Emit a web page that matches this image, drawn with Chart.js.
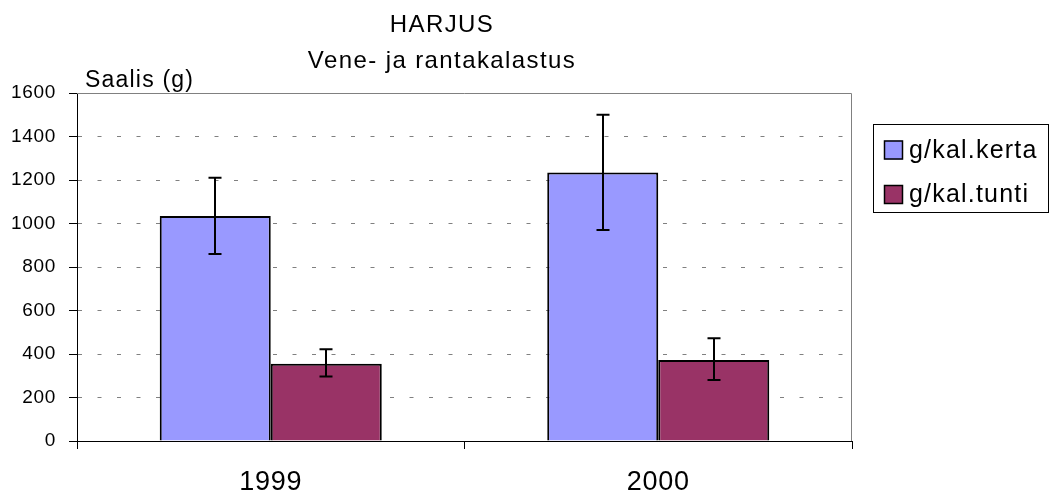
<!DOCTYPE html>
<html>
<head>
<meta charset="utf-8">
<script src="https://cdn.jsdelivr.net/npm/chart.js@4.4.1/dist/chart.umd.min.js"></script>
<style>
  html, body { margin: 0; padding: 0; background: #fff; }
  #wrap { width: 1053px; height: 499px; position: relative; }
</style>
</head>
<body>
<div id="wrap"><canvas id="chart"></canvas></div>
<script>
// Data
const years = ['1999', '2000'];
const seriesNames = ['g/kal.kerta', 'g/kal.tunti'];
const perTrip = [1035, 1235];
const perTripLow = [860, 970];
const perTripHigh = [1210, 1500];
const perHour = [355, 372];
const perHourLow = [296, 280];
const perHourHigh = [422, 472];
const yTicks = [0, 200, 400, 600, 800, 1000, 1200, 1400, 1600];

const titleLines = ['HARJUS', 'Vene- ja rantakalastus'];
const yTitle = 'Saalis (g)';

const FONT = "'Liberation Sans', Arial, Helvetica, sans-serif";
const errLow = [perTripLow, perHourLow];
const errHigh = [perTripHigh, perHourHigh];

// canvas state is reset on resize, so spacing is applied again before layout/draw
const spacing = {
  id: 'spacing',
  beforeLayout(chart) { chart.ctx.letterSpacing = '0.7px'; },
  beforeDraw(chart) { chart.ctx.letterSpacing = '0.7px'; }
};

// gray frame on top / right of the plot area
const frame = {
  id: 'frame',
  beforeDatasetsDraw(chart) {
    const { ctx, chartArea: a } = chart;
    ctx.save();
    ctx.strokeStyle = '#808080';
    ctx.lineWidth = 1;
    ctx.setLineDash([]);
    ctx.beginPath();
    ctx.moveTo(a.left, a.top + 0.5);
    ctx.lineTo(a.right - 0.5, a.top + 0.5);
    ctx.lineTo(a.right - 0.5, a.bottom);
    ctx.stroke();
    ctx.restore();
  }
};

const errorBars = {
  id: 'errorBars',
  afterDatasetsDraw(chart) {
    const { ctx } = chart;
    const y = chart.scales.y;
    ctx.save();
    ctx.strokeStyle = '#000';
    ctx.lineWidth = 2;
    ctx.setLineDash([]);
    chart.data.datasets.forEach((ds, i) => {
      chart.getDatasetMeta(i).data.forEach((bar, j) => {
        const x = Math.round(bar.x);
        const top = y.getPixelForValue(errHigh[i][j]);
        const bot = y.getPixelForValue(errLow[i][j]);
        ctx.beginPath();
        ctx.moveTo(x, top); ctx.lineTo(x, bot);
        ctx.moveTo(x - 6.5, top); ctx.lineTo(x + 6.5, top);
        ctx.moveTo(x - 6.5, bot); ctx.lineTo(x + 6.5, bot);
        ctx.stroke();
      });
    });
    ctx.restore();
  }
};

const texts = {
  id: 'texts',
  afterDraw(chart) {
    const { ctx, chartArea: a } = chart;
    ctx.save();
    ctx.setLineDash([]);
    ctx.fillStyle = '#000';
    ctx.letterSpacing = '1.4px';
    ctx.textAlign = 'center';
    ctx.textBaseline = 'alphabetic';
    ctx.font = '24px ' + FONT;
    ctx.fillText(titleLines[0], 442, 32);
    ctx.fillText(titleLines[1], 442, 68);

    ctx.textAlign = 'left';
    ctx.letterSpacing = '1.2px';
    ctx.font = '23px ' + FONT;
    ctx.fillText(yTitle, a.left + 8, 87);

    // legend
    const lx = 873, ly = 124, lw = 175, lh = 88;
    ctx.strokeStyle = '#000';
    ctx.lineWidth = 1;
    ctx.strokeRect(lx + 0.5, ly + 0.5, lw, lh);
    ctx.letterSpacing = '1.2px';
    ctx.font = '25px ' + FONT;
    chart.data.datasets.forEach((ds, i) => {
      const cy = 149.5 + i * 44.5;
      ctx.fillStyle = ds.backgroundColor;
      ctx.fillRect(884, cy - 9, 19, 19);
      ctx.lineWidth = 1.5;
      ctx.strokeRect(884.5, cy - 8.5, 18, 18);
      ctx.fillStyle = '#000';
      ctx.fillText(ds.label, 909, cy + 8);
    });
    ctx.restore();
  }
};

new Chart(document.getElementById('chart'), {
  type: 'bar',
  data: {
    labels: years,
    datasets: [
      { label: seriesNames[0], data: perTrip, backgroundColor: '#9999FF', borderColor: '#000', borderWidth: 2 },
      { label: seriesNames[1], data: perHour, backgroundColor: '#993366', borderColor: '#000', borderWidth: 2 }
    ]
  },
  options: {
    responsive: true,
    maintainAspectRatio: false,
    animation: false,
    events: [],
    datasets: { bar: { categoryPercentage: 0.573, barPercentage: 1 } },
    layout: { padding: { top: 93, right: 201, left: 0, bottom: 0 } },
    plugins: { legend: { display: false }, title: { display: false }, tooltip: { enabled: false } },
    scales: {
      x: {
        afterFit(s) { s.height = 58; },
        grid: { display: true, offset: true, drawOnChartArea: false, drawTicks: true, tickLength: 8, tickColor: '#000' },
        border: { display: true, color: '#000', width: 1 },
        ticks: { color: '#000', padding: 17, font: { family: FONT, size: 27 } }
      },
      y: {
        min: 0,
        max: 1600,
        afterFit(s) { s.width = 77; },
        afterBuildTicks(s) { s.ticks = yTicks.map(v => ({ value: v })); },
        grid: {
          color: ctx => (ctx.tick && (ctx.tick.value === 1600 || ctx.tick.value === 0)) ? 'rgba(0,0,0,0)' : '#808080',
          lineWidth: 1,
          tickBorderDash: [],
          tickLength: 8,
          tickColor: '#000'
        },
        border: { display: true, color: '#000', width: 1, dash: [4, 15.5] },
        ticks: { color: '#000', padding: 13, font: { family: FONT, size: 19 }, callback: v => String(v) }
      }
    }
  },
  plugins: [spacing, frame, errorBars, texts]
});
</script>
</body>
</html>
